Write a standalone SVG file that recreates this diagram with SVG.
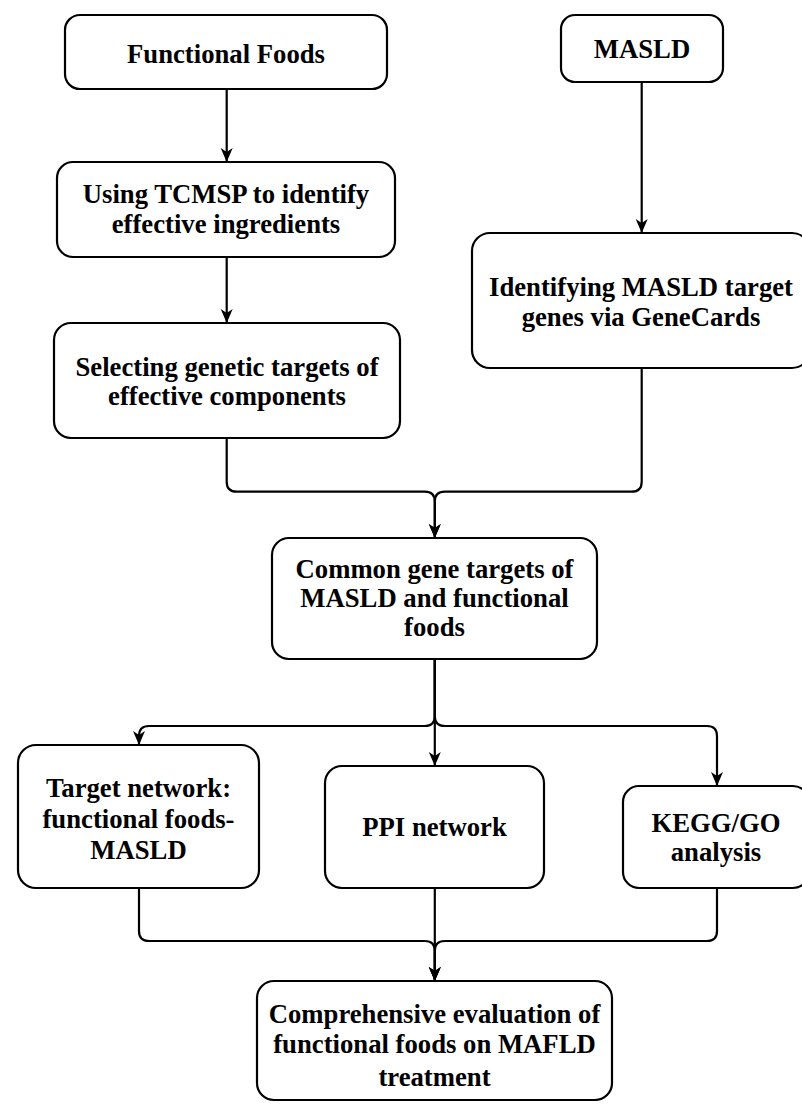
<svg xmlns="http://www.w3.org/2000/svg" width="802" height="1104" viewBox="0 0 802 1104">
<defs>
<marker id="arr" viewBox="0 0 14 14" refX="14" refY="7" markerWidth="14" markerHeight="14" markerUnits="userSpaceOnUse" orient="auto">
<path d="M0,1 L14,7 L0,13 L4,7 Z" fill="#000"/>
</marker>
<style>
.box{fill:#fff;stroke:#000;stroke-width:2.2}
.t{font-family:"Liberation Serif","Times New Roman",serif;font-weight:bold;font-size:26.7px;fill:#000;text-anchor:middle}
.c{fill:none;stroke:#000;stroke-width:2.2}
</style>
</defs>
<rect width="802" height="1104" fill="#fff"/>
<g id="connectors">
<path class="c" d="M226.7,89 V162" marker-end="url(#arr)"/>
<path class="c" d="M226.7,257 V323" marker-end="url(#arr)"/>
<path class="c" d="M641.7,82 V233" marker-end="url(#arr)"/>
<path class="c" d="M226.7,438 V481.7 Q226.7,491.7 236.7,491.7 H424.8 Q434.8,491.7 434.8,501.7 V538" marker-end="url(#arr)"/>
<path class="c" d="M641.7,368 V481.7 Q641.7,491.7 631.7,491.7 H444.8 Q434.8,491.7 434.8,501.7 V538" marker-end="url(#arr)"/>
<path class="c" d="M434.8,659 V716 Q434.8,726 424.8,726 H149 Q139,726 139,736 V745" marker-end="url(#arr)"/>
<path class="c" d="M434.8,659 V766" marker-end="url(#arr)"/>
<path class="c" d="M434.8,659 V716 Q434.8,726 444.8,726 H707 Q717,726 717,736 V786" marker-end="url(#arr)"/>
<path class="c" d="M139,888 V931 Q139,941 149,941 H424.8 Q434.8,941 434.8,951 V981" marker-end="url(#arr)"/>
<path class="c" d="M434.8,888 V981" marker-end="url(#arr)"/>
<path class="c" d="M717,888 V931 Q717,941 707,941 H444.8 Q434.8,941 434.8,951 V981" marker-end="url(#arr)"/>
</g>
<g id="ff">
<rect class="box" x="65" y="15" width="322" height="74" rx="15"/>
<text class="t" x="226" y="63">Functional Foods</text>
</g>
<g id="masld">
<rect class="box" x="561" y="15" width="162" height="67" rx="14"/>
<text class="t" x="642" y="58">MASLD</text>
</g>
<g id="tcmsp">
<rect class="box" x="57" y="162" width="338" height="95" rx="16"/>
<text class="t" x="226" y="203">Using TCMSP to identify</text>
<text class="t" x="226" y="233">effective ingredients</text>
</g>
<g id="selecting">
<rect class="box" x="54" y="323" width="346" height="115" rx="17"/>
<text class="t" x="227" y="376">Selecting genetic targets of</text>
<text class="t" x="227" y="405">effective components</text>
</g>
<g id="genecards">
<rect class="box" x="472" y="233" width="338" height="135" rx="18"/>
<text class="t" x="641" y="296">Identifying MASLD target</text>
<text class="t" x="641" y="326">genes via GeneCards</text>
</g>
<g id="common">
<rect class="box" x="272" y="538" width="325" height="121" rx="17"/>
<text class="t" x="434.5" y="578">Common gene targets of</text>
<text class="t" x="434.5" y="607">MASLD and functional</text>
<text class="t" x="434.5" y="636">foods</text>
</g>
<g id="target">
<rect class="box" x="18" y="745" width="241" height="143" rx="18"/>
<text class="t" x="138.5" y="797">Target network:</text>
<text class="t" x="138.5" y="828">functional foods-</text>
<text class="t" x="138.5" y="859">MASLD</text>
</g>
<g id="ppi">
<rect class="box" x="325" y="766" width="219" height="122" rx="17"/>
<text class="t" x="434.5" y="836">PPI network</text>
</g>
<g id="kegg">
<rect class="box" x="623" y="786" width="186" height="102" rx="16"/>
<text class="t" x="716" y="832">KEGG/GO</text>
<text class="t" x="716" y="861">analysis</text>
</g>
<g id="final">
<rect class="box" x="257" y="981" width="355" height="119" rx="17"/>
<text class="t" x="434.5" y="1023">Comprehensive evaluation of</text>
<text class="t" x="434.5" y="1053">functional foods on MAFLD</text>
<text class="t" x="434.5" y="1086">treatment</text>
</g>
</svg>
